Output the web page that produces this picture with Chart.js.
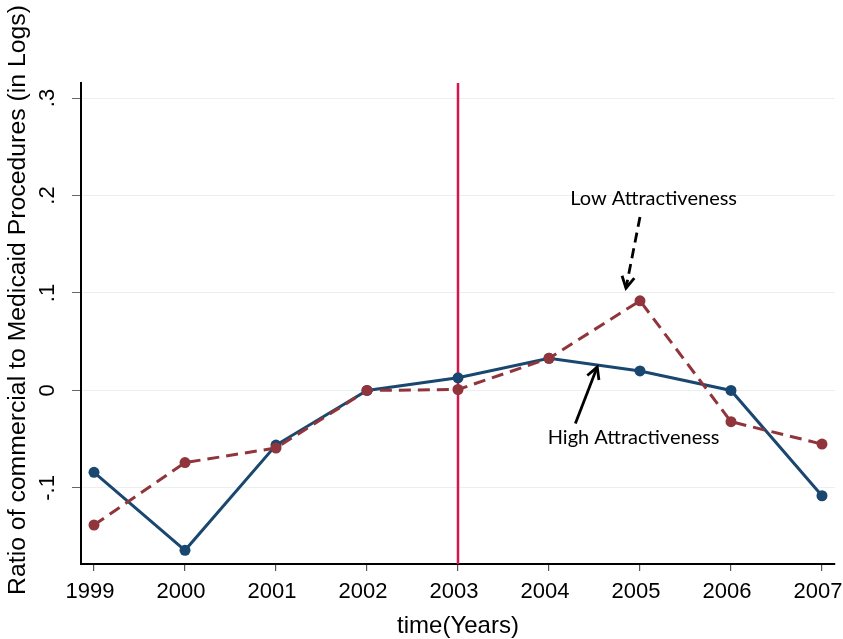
<!DOCTYPE html>
<html>
<head>
<meta charset="utf-8">
<script src="https://cdn.jsdelivr.net/npm/chart.js@4.4.1/dist/chart.umd.min.js"></script>
<style>
html,body{margin:0;padding:0;background:#fff;}
#wrap{width:843px;height:639px;position:relative;}
</style>
</head>
<body>
<div id="wrap"><canvas id="c" width="843" height="639"></canvas></div>
<script>
// ---- data ----
const years = [1999, 2000, 2001, 2002, 2003, 2004, 2005, 2006, 2007];
const xTickLabels = ['1999', '2000', '2001', '2002', '2003', '2004', '2005', '2006', '2007'];
const highAttractiveness = [-0.084, -0.164, -0.056, 0.000, 0.013, 0.033, 0.020, 0.000, -0.108];
const lowAttractiveness  = [-0.138, -0.074, -0.059, 0.000, 0.001, 0.033, 0.092, -0.032, -0.055];
const yTickValues = [-0.1, 0, 0.1, 0.2, 0.3];
const yTickLabels = ['-.1', '0', '.1', '.2', '.3'];
const policyYear = 2003;
const xTitle = 'time(Years)';
const yTitle = 'Ratio of commercial to Medicaid Procedures (in Logs)';
const lowLabel = {text: 'Low Attractiveness', x: 2005.15, y: 0.197, from: [2005.0, 0.178], to: [2004.846, 0.105]};
const highLabel = {text: 'High Attractiveness', x: 2004.93, y: -0.048, from: [2004.29, -0.034], to: [2004.53, 0.024]};

const BLUE = '#1a476f';
const RED = '#90353b';
const FONT = '"Liberation Sans", Arial, sans-serif';

function drawArrow(ctx, x1, y1, x2, y2, dashed) {
  ctx.save();
  ctx.strokeStyle = '#000';
  ctx.lineWidth = 2.8;
  ctx.setLineDash(dashed ? [10, 6] : []);
  ctx.beginPath();
  ctx.moveTo(x1, y1);
  ctx.lineTo(x2, y2);
  ctx.stroke();
  ctx.setLineDash([]);
  const a = Math.atan2(y2 - y1, x2 - x1);
  const L = 13, spread = 0.5;
  ctx.beginPath();
  ctx.moveTo(x2 - L * Math.cos(a - spread), y2 - L * Math.sin(a - spread));
  ctx.lineTo(x2, y2);
  ctx.lineTo(x2 - L * Math.cos(a + spread), y2 - L * Math.sin(a + spread));
  ctx.stroke();
  ctx.restore();
}

const overlay = {
  id: 'overlay',
  beforeDatasetsDraw(chart) {
    const {ctx, scales: {x}, chartArea} = chart;
    const px = x.getPixelForValue(policyYear);
    ctx.save();
    ctx.strokeStyle = '#d4164b';
    ctx.lineWidth = 2.5;
    ctx.beginPath();
    ctx.moveTo(px, chartArea.top);
    ctx.lineTo(px, chartArea.bottom);
    ctx.stroke();
    ctx.restore();
  },
  afterDraw(chart) {
    const {ctx, scales: {x, y}, chartArea} = chart;
    ctx.save();
    ctx.fillStyle = '#000';
    ctx.textAlign = 'center';
    ctx.textBaseline = 'middle';
    // x tick labels
    ctx.font = '22px ' + FONT;
    years.forEach((v, i) => {
      ctx.fillText(xTickLabels[i], x.getPixelForValue(v) - 4, 592);
    });
    // rotated y tick labels
    ctx.font = '22px ' + FONT;
    yTickValues.forEach((v, i) => {
      const py = y.getPixelForValue(v);
      ctx.save();
      ctx.translate(48, py);
      ctx.rotate(-Math.PI / 2);
      ctx.fillText(yTickLabels[i], 0, 0);
      ctx.restore();
    });
    // y title
    ctx.font = '24.8px ' + FONT;
    ctx.save();
    ctx.translate(18, 300);
    ctx.rotate(-Math.PI / 2);
    ctx.fillText(yTitle, 0, 0);
    ctx.restore();
    // x title
    ctx.font = '24px ' + FONT;
    ctx.fillText(xTitle, (chartArea.left + chartArea.right) / 2, 626);
    // annotations
    ctx.font = '20px Lato, "Open Sans", sans-serif';
    [lowLabel, highLabel].forEach((lab, i) => {
      ctx.fillText(lab.text, x.getPixelForValue(lab.x), y.getPixelForValue(lab.y));
      drawArrow(ctx,
        x.getPixelForValue(lab.from[0]), y.getPixelForValue(lab.from[1]),
        x.getPixelForValue(lab.to[0]), y.getPixelForValue(lab.to[1]), i === 0);
    });
    ctx.restore();
  }
};

new Chart(document.getElementById('c'), {
  type: 'line',
  data: {
    datasets: [
      {
        label: 'Low Attractiveness',
        data: years.map((yr, i) => ({x: yr, y: lowAttractiveness[i]})),
        borderColor: RED, backgroundColor: RED,
        borderWidth: 3, borderDash: [12, 7],
        pointRadius: 5.5, pointBackgroundColor: RED, pointBorderWidth: 0,
        tension: 0
      },
      {
        label: 'High Attractiveness',
        data: years.map((yr, i) => ({x: yr, y: highAttractiveness[i]})),
        borderColor: BLUE, backgroundColor: BLUE,
        borderWidth: 3,
        pointRadius: 5.5, pointBackgroundColor: BLUE, pointBorderWidth: 0,
        tension: 0
      }
    ]
  },
  options: {
    responsive: false,
    animation: false,
    devicePixelRatio: 1,
    layout: {padding: {top: 83, right: 8, left: 0, bottom: 0}},
    plugins: {legend: {display: false}, tooltip: {enabled: false}},
    scales: {
      x: {
        type: 'linear',
        min: 1998.857, max: 2007.143,
        afterBuildTicks: s => { s.ticks = years.map(v => ({value: v})); },
        afterFit: s => { s.height = 75; s.paddingLeft = 0; s.paddingRight = 0; },
        ticks: {
          color: 'rgba(0,0,0,0)', font: {family: FONT, size: 21},
          padding: 5, maxRotation: 0, autoSkip: false,
          callback: v => String(v)
        },
        grid: {drawOnChartArea: false, tickLength: 7, tickColor: '#555', lineWidth: 1.2},
        border: {color: '#000', width: 2}
      },
      y: {
        type: 'linear',
        min: -0.178, max: 0.3154,
        afterBuildTicks: s => { s.ticks = yTickValues.map(v => ({value: v})); },
        afterFit: s => { s.width = 81; s.paddingTop = 0; s.paddingBottom = 0; },
        ticks: {color: 'rgba(0,0,0,0)', font: {family: FONT, size: 21}, padding: 4},
        grid: {color: '#e8f0f1', lineWidth: 1, tickLength: 9, tickColor: '#666'},
        border: {color: '#000', width: 2}
      }
    }
  },
  plugins: [overlay]
});
</script>
</body>
</html>
